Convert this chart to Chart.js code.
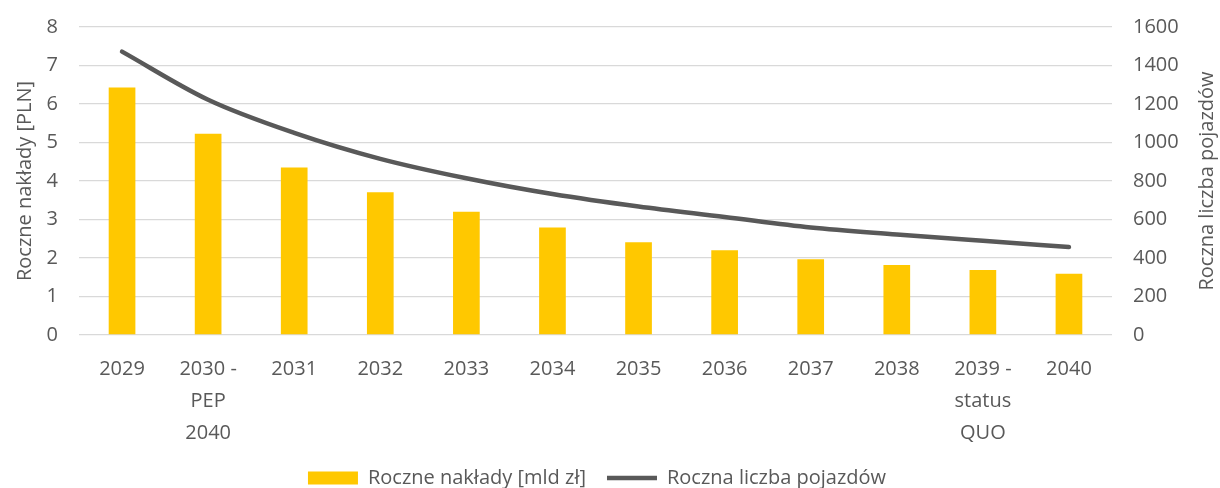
<!DOCTYPE html>
<html>
<head>
<meta charset="utf-8">
<script src="https://cdn.jsdelivr.net/npm/chart.js@4"></script>
<style>
  body { margin: 0; background: #fff; }
  #wrap { width: 1220px; height: 488px; overflow: hidden; }
</style>
</head>
<body>
<div id="wrap"><canvas id="myChart" width="1220" height="498"></canvas></div>
<script>
const years = ["2029", ["2030 -", "PEP", "2040"], "2031", "2032", "2033", "2034", "2035", "2036", "2037", "2038", ["2039 -", "status", "QUO"], "2040"];
const spending = [6.43, 5.23, 4.35, 3.71, 3.2, 2.79, 2.41, 2.2, 1.97, 1.82, 1.69, 1.59];
const vehicles = [1472, 1222, 1050, 915, 814, 732, 667, 613, 558, 522, 489, 457];
const leftTicks = [0, 1, 2, 3, 4, 5, 6, 7, 8];
const rightTicks = [0, 200, 400, 600, 800, 1000, 1200, 1400, 1600];

const textColor = "#595959";
const fontFamily = "'Open Sans', sans-serif";

// right axis title reads bottom-to-top, so draw it ourselves
const rightTitle = {
  id: "rightTitle",
  afterDraw(chart) {
    const ctx = chart.ctx;
    const area = chart.chartArea;
    ctx.save();
    ctx.translate(1207, (area.top + area.bottom) / 2);
    ctx.rotate(-Math.PI / 2);
    ctx.font = "20px " + fontFamily;
    ctx.fillStyle = textColor;
    ctx.textAlign = "center";
    ctx.textBaseline = "middle";
    ctx.fillText("Roczna liczba pojazdów", 0, 0);
    ctx.restore();
  }
};

let myChart = document.getElementById("myChart").getContext("2d");
let costChart = new Chart(myChart, {
  type: "bar",
  data: {
    labels: years,
    datasets: [
      {
        label: "Roczne nakłady [mld zł]",
        data: spending,
        backgroundColor: "#FFC800",
        borderWidth: 0,
        barPercentage: 0.31,
        categoryPercentage: 1,
        yAxisID: "y",
        order: 1,
        pointStyle: "rect",
      },
      {
        type: "line",
        label: "Roczna liczba pojazdów",
        data: vehicles,
        borderColor: "#595959",
        backgroundColor: "#595959",
        borderWidth: 4.5,
        borderCapStyle: "round",
        pointRadius: 0,
        cubicInterpolationMode: "monotone",
        yAxisID: "y2",
        order: 0,
        pointStyle: "line",
      },
    ],
  },
  options: {
    responsive: false,
    animation: false,
    layout: { padding: { top: 27, left: 0, right: 0, bottom: 0 } },
    scales: {
      x: {
        afterFit: (axis) => { axis.height = 112; },
        grid: { display: false },
        border: { display: false },
        ticks: {
          color: textColor,
          font: { family: fontFamily, size: 20, lineHeight: 1.6 },
          padding: 10,
          maxRotation: 0,
          autoSkip: false,
        },
      },
      y: {
        position: "left",
        min: 0,
        max: 8,
        afterBuildTicks: (axis) => { axis.ticks = leftTicks.map(v => ({ value: v })); },
        afterFit: (axis) => { axis.width = 79; axis.paddingTop = 0; axis.paddingBottom = 0; },
        grid: { color: "#D9D9D9", lineWidth: 1.3, drawTicks: false },
        border: { display: false },
        ticks: {
          color: textColor,
          font: { family: fontFamily, size: 20 },
          padding: 21,
        },
        title: {
          display: true,
          text: "Roczne nakłady [PLN]",
          color: textColor,
          font: { family: fontFamily, size: 20 },
          padding: { top: 13, bottom: 0 },
        },
      },
      y2: {
        position: "right",
        min: 0,
        max: 1600,
        afterBuildTicks: (axis) => { axis.ticks = rightTicks.map(v => ({ value: v })); },
        afterFit: (axis) => { axis.width = 108; axis.paddingTop = 0; axis.paddingBottom = 0; },
        grid: { display: false, drawTicks: false },
        border: { display: false },
        ticks: {
          color: textColor,
          font: { family: fontFamily, size: 20 },
          padding: 21,
          callback: (v) => String(v),
        },
      },
    },
    plugins: {
      legend: {
        display: true,
        position: "bottom",
        labels: {
          usePointStyle: true,
          pointStyleWidth: 50,
          boxHeight: 13,
          color: textColor,
          font: { family: fontFamily, size: 20 },
          padding: 21,
          sort: (a, b) => a.datasetIndex - b.datasetIndex,
          generateLabels: (chart) => {
            const items = Chart.defaults.plugins.legend.labels.generateLabels(chart);
            items[0].text += "     ";
            return items;
          },
        },
      },
      tooltip: { enabled: false },
    },
  },
  plugins: [rightTitle],
});
</script>
</body>
</html>
